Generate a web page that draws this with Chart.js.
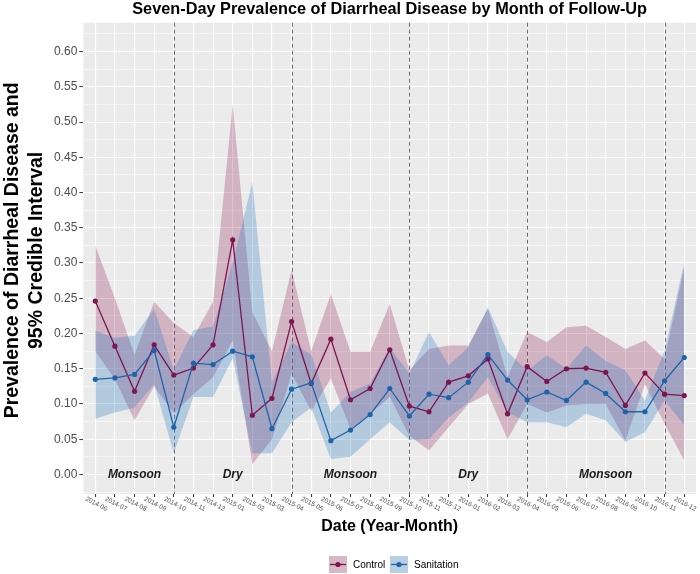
<!DOCTYPE html>
<html>
<head>
<meta charset="utf-8">
<script src="https://cdn.jsdelivr.net/npm/chart.js@4/dist/chart.umd.min.js"></script>
<style>
  html, body { margin: 0; padding: 0; background: #fff; }
  #wrap { width: 700px; height: 574px; }
</style>
</head>
<body>
<div id="wrap"><canvas id="chart" width="700" height="574"></canvas></div>
<script>
// data
const months = [
  "2014-06", "2014-07", "2014-08", "2014-09", "2014-10", "2014-11", "2014-12",
  "2015-01", "2015-02", "2015-03", "2015-04", "2015-05", "2015-06", "2015-07",
  "2015-08", "2015-09", "2015-10", "2015-11", "2015-12", "2016-01", "2016-02",
  "2016-03", "2016-04", "2016-05", "2016-06", "2016-07", "2016-08", "2016-09",
  "2016-10", "2016-11", "2016-12"
];
const control = [0.246, 0.182, 0.118, 0.184, 0.141, 0.151, 0.184, 0.333, 0.084, 0.108, 0.217, 0.129, 0.192, 0.106, 0.122, 0.177, 0.097, 0.089, 0.131, 0.140, 0.164, 0.086, 0.153, 0.132, 0.150, 0.151, 0.145, 0.098, 0.144, 0.114, 0.112];
const controlLow = [0.175, 0.135, 0.077, 0.125, 0.087, 0.114, 0.138, 0.190, 0.015, 0.050, 0.143, 0.090, 0.136, 0.065, 0.086, 0.110, 0.055, 0.034, 0.067, 0.100, 0.115, 0.050, 0.100, 0.088, 0.098, 0.100, 0.100, 0.048, 0.128, 0.072, 0.020];
const controlHigh = [0.325, 0.250, 0.170, 0.245, 0.215, 0.195, 0.245, 0.525, 0.230, 0.175, 0.290, 0.175, 0.256, 0.174, 0.174, 0.242, 0.148, 0.178, 0.183, 0.183, 0.235, 0.138, 0.202, 0.188, 0.209, 0.211, 0.195, 0.178, 0.190, 0.164, 0.294];
const sanitation = [0.135, 0.137, 0.142, 0.176, 0.067, 0.158, 0.156, 0.175, 0.167, 0.065, 0.121, 0.130, 0.048, 0.063, 0.085, 0.122, 0.083, 0.114, 0.109, 0.131, 0.170, 0.134, 0.106, 0.117, 0.105, 0.131, 0.115, 0.089, 0.089, 0.133, 0.166];
const sanitationLow = [0.079, 0.088, 0.095, 0.128, 0.030, 0.110, 0.110, 0.165, 0.030, 0.030, 0.074, 0.095, 0.022, 0.025, 0.050, 0.074, 0.049, 0.050, 0.081, 0.102, 0.138, 0.088, 0.074, 0.074, 0.067, 0.086, 0.077, 0.046, 0.060, 0.105, 0.070];
const sanitationHigh = [0.204, 0.194, 0.197, 0.235, 0.148, 0.205, 0.210, 0.300, 0.415, 0.130, 0.188, 0.170, 0.088, 0.117, 0.129, 0.180, 0.143, 0.202, 0.155, 0.180, 0.237, 0.174, 0.147, 0.169, 0.150, 0.183, 0.161, 0.148, 0.105, 0.176, 0.301];

const yTicks = [0, 0.05, 0.1, 0.15, 0.2, 0.25, 0.3, 0.35, 0.4, 0.45, 0.5, 0.55, 0.6];
const yTickLabels = ["0.00", "0.05", "0.10", "0.15", "0.20", "0.25", "0.30", "0.35", "0.40", "0.45", "0.50", "0.55", "0.60"];

// season boundaries (month index) and labels
const seasonBreaks = [4, 10, 16, 22, 29];
const seasonNames = ["Monsoon", "Dry", "Monsoon", "Dry", "Monsoon"];
const seasonAt = [2, 7, 13, 19, 26];

const controlColor = "#7b1650";
const sanitationColor = "#1f63a8";
const controlFill = "rgba(140, 30, 85, 0.27)";
const sanitationFill = "rgba(55, 125, 195, 0.31)";
const FONT = '"Liberation Sans", Arial, Helvetica, sans-serif';

const pts = (arr) => arr.map((v, i) => ({ x: i, y: v }));

const band = (arr, color, fillTo, order) => ({
  data: pts(arr),
  borderWidth: 0,
  pointRadius: 0,
  backgroundColor: color,
  fill: fillTo,
  order: order,
});

const decor = {
  id: "decor",
  beforeDraw(chart) {
    const { ctx, chartArea: a } = chart;
    ctx.save();
    ctx.fillStyle = "#ebebeb";
    ctx.fillRect(a.left, a.top, a.right - a.left, a.bottom - a.top);
    ctx.restore();
  },
  beforeDatasetsDraw(chart) {
    const { ctx, chartArea: a, scales } = chart;
    const xs = scales.x, ys = scales.y;
    ctx.save();
    // season labels
    ctx.fillStyle = "#1a1a1a";
    ctx.font = "italic bold 12px " + FONT;
    ctx.textAlign = "center";
    ctx.textBaseline = "middle";
    seasonNames.forEach((s, k) => {
      ctx.fillText(s, xs.getPixelForValue(seasonAt[k]), ys.getPixelForValue(0));
    });
    // season boundaries
    ctx.strokeStyle = "#6b6b6b";
    ctx.lineWidth = 1;
    ctx.setLineDash([4, 3]);
    seasonBreaks.forEach((m) => {
      const x = Math.round(xs.getPixelForValue(m)) + 0.5;
      ctx.beginPath();
      ctx.moveTo(x, a.top);
      ctx.lineTo(x, a.bottom);
      ctx.stroke();
    });
    ctx.restore();
  },
  afterDraw(chart) {
    const { ctx, chartArea: a, scales } = chart;
    const xs = scales.x;
    const cx = (a.left + a.right) / 2;
    const cy = (a.top + a.bottom) / 2;
    ctx.save();
    ctx.fillStyle = "#000";
    ctx.textAlign = "center";
    ctx.textBaseline = "middle";
    ctx.font = "bold 16.3px " + FONT;
    ctx.fillText("Seven-Day Prevalence of Diarrheal Disease by Month of Follow-Up", cx, 9.5);

    ctx.font = "bold 16px " + FONT;
    ctx.fillText("Date (Year-Month)", cx, 527);

    ctx.save();
    ctx.translate(13, cy - 8);
    ctx.rotate(-Math.PI / 2);
    ctx.font = "bold 19.5px " + FONT;
    ctx.fillText("Prevalence of Diarrheal Disease and", 0, 0);
    ctx.fillText("95% Credible Interval", 0, 23.5);
    ctx.restore();

    // x tick labels, slanted down to the right
    ctx.fillStyle = "#4d4d4d";
    ctx.font = "6.5px " + FONT;
    months.forEach((m, i) => {
      ctx.save();
      ctx.translate(xs.getPixelForValue(i) + 1, a.bottom + 10);
      ctx.rotate(28 * Math.PI / 180);
      ctx.fillText(m, 0, 0);
      ctx.restore();
    });

    // legend
    const items = [
      { label: "Control", fill: controlFill, line: controlColor, x: 329 },
      { label: "Sanitation", fill: sanitationFill, line: sanitationColor, x: 390 },
    ];
    const ly = 556, kw = 18, kh = 17;
    items.forEach((it) => {
      ctx.fillStyle = "#f2f2f2";
      ctx.fillRect(it.x, ly, kw, kh);
      ctx.fillStyle = it.fill;
      ctx.fillRect(it.x, ly, kw, kh);
      ctx.strokeStyle = it.line;
      ctx.lineWidth = 1.3;
      ctx.beginPath();
      ctx.moveTo(it.x + 1, ly + kh / 2);
      ctx.lineTo(it.x + kw - 1, ly + kh / 2);
      ctx.stroke();
      ctx.fillStyle = it.line;
      ctx.beginPath();
      ctx.arc(it.x + kw / 2, ly + kh / 2, 2.6, 0, Math.PI * 2);
      ctx.fill();
      ctx.fillStyle = "#000";
      ctx.font = "10px " + FONT;
      ctx.textAlign = "left";
      ctx.fillText(it.label, it.x + kw + 6, ly + kh / 2 + 0.5);
    });
    ctx.restore();
  },
};

new Chart(document.getElementById("chart"), {
  type: "line",
  data: {
    datasets: [
      band(controlHigh, controlFill, 1, 4),
      band(controlLow, "transparent", false, 4),
      band(sanitationHigh, sanitationFill, 3, 3),
      band(sanitationLow, "transparent", false, 3),
      {
        label: "Control",
        data: pts(control),
        borderColor: controlColor,
        backgroundColor: controlColor,
        borderWidth: 1.3,
        pointRadius: 2.6,
        pointBorderWidth: 0,
        fill: false,
        order: 1,
      },
      {
        label: "Sanitation",
        data: pts(sanitation),
        borderColor: sanitationColor,
        backgroundColor: sanitationColor,
        borderWidth: 1.3,
        pointRadius: 2.6,
        pointBorderWidth: 0,
        fill: false,
        order: 0,
      },
    ],
  },
  options: {
    responsive: false,
    animation: false,
    devicePixelRatio: 1,
    layout: { padding: { top: 22.7, right: 2, left: 0, bottom: 0 } },
    elements: { line: { tension: 0 } },
    plugins: {
      legend: { display: false },
      title: { display: false },
      tooltip: { enabled: false },
      filler: { propagate: false },
    },
    scales: {
      x: {
        type: "linear",
        min: -0.61,
        max: 30.6,
        afterBuildTicks: (scale) => {
          scale.ticks = months.map((m, i) => ({ value: i }));
        },
        afterFit: (scale) => { scale.height = 80; },
        ticks: { display: false },
        border: { display: false },
        grid: {
          color: "#ffffff",
          lineWidth: 1.1,
          tickLength: 3,
          tickColor: "#333333",
          tickWidth: 1,
        },
      },
      y: {
        type: "linear",
        min: -0.0277,
        max: 0.641,
        afterBuildTicks: (scale) => {
          const t = [{ value: -0.025 }];
          yTicks.forEach((v) => {
            t.push({ value: v, major: true });
            t.push({ value: v + 0.025 });
          });
          scale.ticks = t;
        },
        afterFit: (scale) => { scale.width = 83.3; },
        border: { display: false },
        ticks: {
          padding: 2,
          color: "#4d4d4d",
          font: { family: FONT, size: 12 },
          callback: (v) => {
            const k = yTicks.findIndex((t) => Math.abs(t - v) < 1e-6);
            return k >= 0 ? yTickLabels[k] : "";
          },
        },
        grid: {
          color: "#ffffff",
          lineWidth: (c) => (c.tick && c.tick.major ? 1.1 : 0.5),
          tickLength: 4,
          tickColor: (c) => (c.tick && c.tick.major ? "#333333" : "transparent"),
          tickWidth: 1,
        },
      },
    },
  },
  plugins: [decor],
});
</script>
</body>
</html>
